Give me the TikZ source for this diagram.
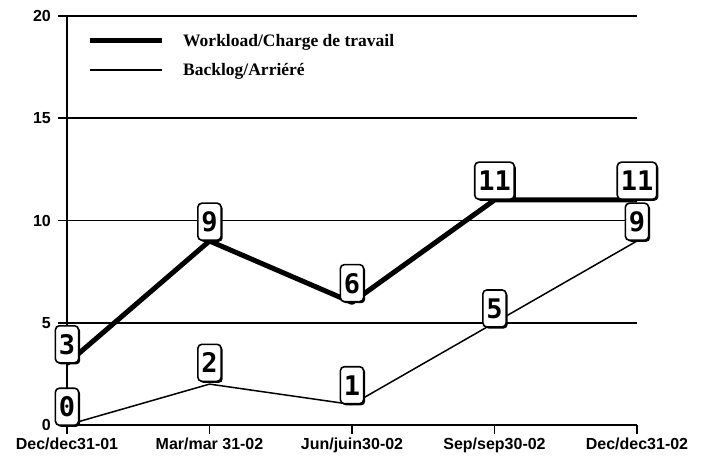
\documentclass[tikz,border=0pt]{standalone}
\usepackage{fontspec}
\setmainfont{Liberation Serif}
\setsansfont{Liberation Sans}
\newfontfamily\digitfont{DejaVu Sans Mono Bold}
\usetikzlibrary{shadows}
\begin{document}
\begin{tikzpicture}[x=1pt,y=-1pt,
  gridline/.style={line width=1.5pt},
  axisline/.style={line width=1.8pt},
  workline/.style={line width=5pt, line join=round},
  backline/.style={line width=1.5pt, line join=round},
  val/.style={draw, line width=1.6pt, rounded corners=4pt, fill=white,
    font=\digitfont\fontsize{27}{27}\selectfont,
    inner xsep=3.5pt, inner ysep=0pt, minimum height=37pt, text height=20pt, text depth=0pt, anchor=south,
    drop shadow={shadow xshift=1.6pt, shadow yshift=-1.6pt, opacity=1, fill=black}},
  ylab/.style={anchor=east, font=\sffamily\bfseries\fontsize{16}{16}\selectfont, inner sep=0pt},
  xlab/.style={anchor=north, font=\sffamily\bfseries\fontsize{16}{16}\selectfont, inner sep=0pt},
  legtext/.style={anchor=west, font=\bfseries\fontsize{17.5}{17.5}\selectfont, inner sep=0pt}
]
\fill[white] (0,0) rectangle (709,465);
\useasboundingbox (0,0) rectangle (709,465);

% grid lines with ticks
\foreach \v/\yy in {20/16, 15/118.25, 10/220.5, 5/322.75}{
  \draw[gridline] (58,\yy) -- (637,\yy);
  \node[ylab] (y\v) at (51,\yy) {\v};
}
\node[ylab] (y0) at (51,425) {0};

% axes
\coordinate (ytop) at (67,16);
\coordinate (ybot) at (67,432);
\draw[axisline] (ytop) -- (ybot);
\coordinate (xl) at (58,425);
\coordinate (xr) at (637,425);
\draw[axisline] (xl) -- (xr);

% x ticks and labels
\foreach \i/\xx/\t in {1/67/{Dec/dec31-01}, 2/209.5/{Mar/mar 31-02}, 3/352/{Jun/juin30-02}, 4/494.5/{Sep/sep30-02}, 5/637/{Dec/dec31-02}}{
  \coordinate (tk\i) at (\xx,425);
  \coordinate (tb\i) at (\xx,434);
  \draw[axisline] (tk\i) -- (tb\i);
  \node[xlab] (xlab\i) at (\xx,438) {\t};
}

% data points
\coordinate (w1) at (67,363.6);
\coordinate (w2) at (209.5,241);
\coordinate (w3) at (352,302.4);
\coordinate (w4) at (494.5,200);
\coordinate (w5) at (637,200);
\coordinate (b1) at (67,425);
\coordinate (b2) at (209.5,384.1);
\coordinate (b3) at (352,404.5);
\coordinate (b4) at (494.5,322.75);
\coordinate (b5) at (637,241);

\draw[backline] (b1) -- (b2) -- (b3) -- (b4) -- (b5);
\draw[workline] (w1) -- (w2) -- (w3) -- (w4) -- (w5);

% value labels
\node[val] (lb1) at ([yshift=-1]b1) {0};
\node[val] (lb2) at ([yshift=2]b2) {2};
\node[val] (lb3) at (b3) {1};
\node[val] (lb4) at ([yshift=-5]b4) {5};
\node[val] (lb5) at (b5) {9};
\node[val] (lw1) at (w1) {3};
\node[val] (lw2) at (w2) {9};
\node[val] (lw3) at (w3) {6};
\node[val] (lw4) at (w4) {11};
\node[val] (lw5) at (w5) {11};

% legend
\coordinate (la) at (90,41);
\coordinate (lbb) at (162,41);
\draw[line width=5pt] (la) -- (lbb);
\coordinate (lc) at (90,70);
\coordinate (ld) at (162,70);
\draw[line width=1.5pt] (lc) -- (ld);
\node[legtext] (leg1) at (183,42) {Workload/Charge de travail};
\node[legtext] (leg2) at (183,71) {Backlog/Arriéré};
\end{tikzpicture}
\end{document}
